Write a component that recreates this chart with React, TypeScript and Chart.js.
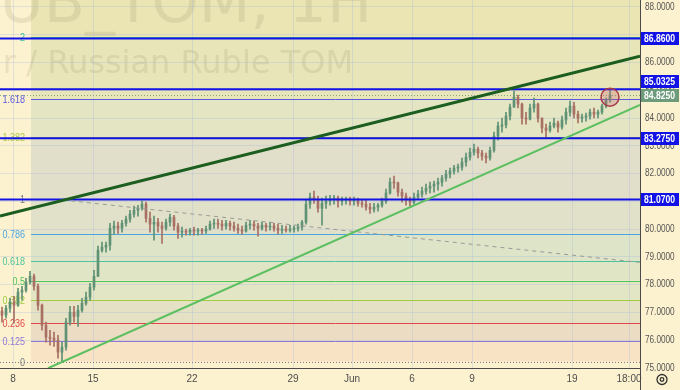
import React, { useEffect, useRef } from 'react';
import { Chart, registerables } from 'chart.js';

Chart.register(...registerables);

// ---- candle data (one candle per ~3 hourly bars), prices in RUB ----
const closes = [
  76.90, 77.15, 77.37, 77.26, 77.73, 77.80, 78.09, 78.30, 77.94, 77.26,
  76.54, 76.11, 76.07, 76.00, 75.57, 75.75, 76.65, 77.01, 76.86, 77.08,
  77.33, 77.55, 77.91, 78.30, 79.24, 79.35, 79.42, 80.03, 80.11, 80.03,
  80.21, 80.36, 80.54, 80.68, 80.75, 80.90, 80.39, 80.18, 80.25, 80.11,
  80.03, 80.25, 80.43, 80.11, 79.89, 79.93, 79.89, 79.96, 79.93, 79.96,
  79.93, 80.00, 80.18, 80.21, 80.18, 80.11, 80.21, 80.11, 80.03, 79.96,
  79.93, 80.14, 80.18, 80.11, 80.03, 80.14, 80.07, 80.11, 80.03, 79.96,
  80.00, 79.96, 80.00, 80.03, 80.07, 80.25, 80.90, 81.15, 81.08, 80.75,
  80.93, 81.01, 81.08, 81.12, 81.01, 81.04, 81.08, 81.01, 81.04, 80.93,
  80.90, 80.79, 80.72, 80.79, 80.86, 81.01, 81.30, 81.69, 81.66, 81.33,
  81.19, 81.04, 80.97, 81.15, 81.26, 81.37, 81.47, 81.55, 81.62, 81.69,
  81.84, 81.98, 82.09, 82.20, 82.23, 82.41, 82.59, 82.77, 82.88, 82.74,
  82.63, 82.56, 82.84, 83.35, 83.71, 83.75, 84.07, 84.39, 84.75, 84.50,
  84.00, 83.96, 84.36, 84.50, 84.00, 83.64, 83.56, 83.71, 83.82, 83.67,
  83.93, 84.21, 84.43, 84.14, 84.00, 84.03, 84.07, 84.21, 84.14, 84.21,
  84.43, 84.65, 84.825,
];

const highs = [
  77.19, 77.26, 77.51, 77.58, 77.87, 77.94, 78.23, 78.48, 78.38, 78.02,
  77.30, 76.65, 76.36, 76.29, 76.18, 75.93, 76.79, 77.22, 77.22, 77.26,
  77.51, 77.73, 78.05, 78.52, 79.39, 79.53, 79.53, 80.21, 80.29, 80.25,
  80.32, 80.47, 80.68, 80.83, 80.86, 81.01, 80.97, 80.61, 80.47, 80.39,
  80.25, 80.36, 80.54, 80.50, 80.21, 80.07, 80.00, 80.03, 80.07, 80.03,
  80.03, 80.11, 80.29, 80.36, 80.36, 80.32, 80.32, 80.29, 80.25, 80.18,
  80.11, 80.25, 80.32, 80.29, 80.21, 80.25, 80.21, 80.25, 80.21, 80.18,
  80.14, 80.11, 80.14, 80.11, 80.18, 80.32, 81.04, 81.30, 81.37, 81.19,
  81.12, 81.19, 81.22, 81.22, 81.19, 81.15, 81.15, 81.15, 81.15, 81.12,
  81.04, 81.04, 80.93, 80.93, 80.93, 81.12, 81.44, 81.84, 81.91, 81.69,
  81.44, 81.30, 81.15, 81.30, 81.40, 81.51, 81.62, 81.69, 81.73, 81.84,
  81.94, 82.12, 82.20, 82.30, 82.34, 82.56, 82.74, 82.92, 83.06, 82.95,
  82.84, 82.74, 82.95, 83.49, 83.85, 84.00, 84.21, 84.50, 84.97, 84.83,
  84.54, 84.21, 84.50, 84.72, 84.54, 84.00, 83.78, 83.85, 84.00, 83.89,
  84.07, 84.36, 84.61, 84.57, 84.25, 84.14, 84.18, 84.32, 84.36, 84.29,
  84.50, 84.72, 85.01,
];

const lows = [
  76.65, 76.79, 77.01, 76.61, 77.22, 77.44, 77.73, 78.02, 77.80, 77.08,
  76.36, 75.93, 75.82, 75.78, 75.35, 75.20, 75.64, 76.54, 76.65, 76.50,
  77.01, 77.26, 77.44, 77.80, 78.30, 79.17, 79.17, 79.24, 79.82, 79.85,
  79.89, 80.11, 80.25, 80.43, 80.47, 80.68, 80.25, 79.89, 79.60, 79.89,
  79.49, 79.96, 80.11, 79.96, 79.67, 79.71, 79.78, 79.78, 79.78, 79.78,
  79.82, 79.85, 79.96, 80.03, 80.03, 79.96, 80.00, 79.96, 79.93, 79.85,
  79.82, 79.89, 80.00, 79.96, 79.75, 79.96, 79.93, 79.96, 79.93, 79.82,
  79.85, 79.89, 79.89, 79.89, 79.93, 79.96, 80.18, 80.75, 80.93, 80.61,
  80.14, 80.75, 80.86, 80.90, 80.79, 80.86, 80.90, 80.86, 80.86, 80.83,
  80.79, 80.68, 80.57, 80.61, 80.65, 80.79, 80.93, 81.26, 81.47, 81.19,
  80.97, 80.86, 80.83, 80.90, 81.08, 81.15, 81.26, 81.30, 81.33, 81.40,
  81.55, 81.73, 81.84, 81.98, 82.05, 82.12, 82.27, 82.48, 82.66, 82.56,
  82.48, 82.38, 82.48, 82.77, 83.20, 83.49, 83.64, 83.93, 84.43, 84.36,
  83.78, 83.78, 83.93, 84.21, 83.85, 83.46, 83.31, 83.49, 83.64, 83.49,
  83.60, 83.78, 84.07, 84.00, 83.82, 83.85, 83.89, 83.96, 84.00, 84.00,
  84.14, 84.36, 84.57,
];

const firstOpen = 77.05;
const lastPrice = 84.825;

// ---- axes ----
const xTickSlots = [2.75, 22.75, 47.5, 72.75, 87.5, 102.5, 117.5, 142.5, 156.75];
const xTickLabels = ['8', '15', '22', '29', 'Jun', '6', '9', '19', '18:00'];
const yTickValues = [75, 76, 77, 78, 79, 80, 81, 82, 83, 84, 85, 86, 87, 88];
const yHiddenLabels = [87];

// ---- fibonacci retracement ----
const fibZero = 75.23;
const fibOne = 81.07;
const fibLevels = [0, 0.125, 0.236, 0.382, 0.5, 0.618, 0.786, 1, 1.382, 1.618, 2];
const fibLabels = ['0', '0.125', '0.236', '0.382', '0.5', '0.618', '0.786', '1', '1.382', '1.618', '2'];
const fibStartSlot = 7.25;

// ---- horizontal levels & trend lines ----
const levelPrices = [86.86, 85.0325, 83.275, 81.07];
const darkTrend = [{ x: -0.5, y: 80.47 }, { x: 159.5, y: 86.23 }];
const lightTrend = [{ x: 11.5, y: 74.99 }, { x: 159.5, y: 84.47 }];
const dashedTrend = [{ x: 15.25, y: 81.05 }, { x: 159.5, y: 78.8 }];
const markSlot = 152;
const markPrice = 84.75;

const watermarkTitle = 'USDRUB_TOM, 1H';
const watermarkSubtitle = 'US Dollar / Russian Ruble TOM';

// ---- styles ----
const PAGE_BG = '#fdf2cf';
const SANS = '"Liberation Sans", Arial, sans-serif';
const SQUEEZE = 0.82;
const UP = '#5f9275';
const DOWN = '#a86f63';
const LEVEL_BLUE = '#1212e6';
const LAST_BG = '#6e9b7c';
const GRID = 'rgba(170,185,220,0.33)';
const fibLineColors = ['#787b86', '#9078d8', '#e04848', '#9dcc3e', '#52c25a', '#4fc49c', '#4aa6e0', '#787b86', '#a8cc4a', '#5b5bdf', '#3dc0a0'];
const fibBandColors = ['#f8e3c5', '#ecdcc4', '#e4e1c4', '#e3e6c4', '#e0e5c5', '#dee4c8', '#e1e1ca', '#e1dfc9', '#e3e5c3', '#e8e5b8', '#ebe5b4'];

const fibPrice = (lvl: number) => fibZero + (fibOne - fibZero) * lvl;

function squeezedText(ctx: CanvasRenderingContext2D, text: string, x: number, y: number, align: CanvasTextAlign) {
  ctx.save();
  ctx.translate(x, y);
  ctx.scale(SQUEEZE, 1);
  ctx.textAlign = align;
  ctx.textBaseline = 'middle';
  ctx.fillText(text, 0, 0);
  ctx.restore();
}

const decorPlugin = {
  id: 'tvDecor',
  beforeDraw(chart: any) {
    const { ctx, chartArea: a } = chart;
    const xs = chart.scales.x;
    const ys = chart.scales.y;
    ctx.save();
    ctx.fillStyle = PAGE_BG;
    ctx.fillRect(0, 0, chart.width, chart.height);
    const left = Math.round(xs.getPixelForValue(fibStartSlot));
    for (let k = 0; k < fibLevels.length; k++) {
      const yLow = ys.getPixelForValue(fibPrice(fibLevels[k]));
      const yHigh = k + 1 < fibLevels.length ? ys.getPixelForValue(fibPrice(fibLevels[k + 1])) : a.top;
      ctx.fillStyle = fibBandColors[k];
      ctx.fillRect(left, yHigh, a.right - left, yLow - yHigh);
    }
    ctx.beginPath();
    ctx.rect(a.left, a.top, a.right - a.left, a.bottom - a.top);
    ctx.clip();
    ctx.fillStyle = 'rgba(110,100,60,0.12)';
    ctx.textAlign = 'right';
    ctx.textBaseline = 'alphabetic';
    ctx.font = '60px "DejaVu Sans", sans-serif';
    ctx.fillText(watermarkTitle, 372, 22);
    ctx.font = '32px "DejaVu Sans", sans-serif';
    ctx.fillText(watermarkSubtitle, 353, 73);
    ctx.restore();
  },
  beforeDatasetsDraw(chart: any) {
    const { ctx, chartArea: a } = chart;
    const xs = chart.scales.x;
    const ys = chart.scales.y;
    const left = Math.round(xs.getPixelForValue(fibStartSlot));
    ctx.save();
    ctx.lineWidth = 1;
    ctx.font = '11px ' + SANS;
    for (let k = 0; k < fibLevels.length; k++) {
      const py = Math.round(ys.getPixelForValue(fibPrice(fibLevels[k]))) + 0.5;
      ctx.strokeStyle = fibLineColors[k];
      ctx.setLineDash(fibLevels[k] === 0 ? [1, 2] : []);
      ctx.beginPath();
      ctx.moveTo(fibLevels[k] === 0 ? a.left : left, py);
      ctx.lineTo(a.right, py);
      ctx.stroke();
      ctx.fillStyle = fibLineColors[k];
      squeezedText(ctx, fibLabels[k], left - 6, py, 'right');
    }
    const ly = Math.round(ys.getPixelForValue(lastPrice)) + 0.5;
    ctx.strokeStyle = '#7fa88a';
    ctx.setLineDash([1, 2]);
    ctx.beginPath();
    ctx.moveTo(a.left, ly);
    ctx.lineTo(a.right, ly);
    ctx.stroke();
    ctx.restore();
  },
  afterDraw(chart: any) {
    const { ctx, chartArea: a } = chart;
    const xs = chart.scales.x;
    const ys = chart.scales.y;
    ctx.save();
    // axis borders
    ctx.strokeStyle = '#4a4a4a';
    ctx.lineWidth = 1;
    ctx.beginPath();
    ctx.moveTo(a.left, Math.round(a.bottom) + 0.5);
    ctx.lineTo(a.right, Math.round(a.bottom) + 0.5);
    ctx.moveTo(Math.round(a.right) + 0.5, 0);
    ctx.lineTo(Math.round(a.right) + 0.5, chart.height);
    ctx.stroke();

    // price-axis tick labels
    ctx.font = '10px ' + SANS;
    ctx.fillStyle = '#555555';
    for (const v of yTickValues) {
      if (yHiddenLabels.includes(v)) continue;
      squeezedText(ctx, v.toFixed(4), a.right + 5, ys.getPixelForValue(v), 'left');
    }

    // marker circle
    const cx = xs.getPixelForValue(markSlot);
    const cy = ys.getPixelForValue(markPrice);
    ctx.beginPath();
    ctx.arc(cx, cy, 9, 0, Math.PI * 2);
    ctx.fillStyle = 'rgba(205,90,110,0.28)';
    ctx.fill();
    ctx.strokeStyle = '#a83a4a';
    ctx.lineWidth = 1.5;
    ctx.stroke();

    // price-axis boxes
    const BOX_H = 13;
    const boxes: any[] = levelPrices.map((p) => ({ y: ys.getPixelForValue(p), text: p.toFixed(4), bg: LEVEL_BLUE, fixed: false }));
    boxes.push({ y: ys.getPixelForValue(lastPrice), text: lastPrice.toFixed(4), bg: LAST_BG, fixed: true });
    boxes.sort((p: any, q: any) => p.y - q.y);
    for (let pass = 0; pass < 4; pass++) {
      for (let i = 1; i < boxes.length; i++) {
        const gap = boxes[i].y - boxes[i - 1].y;
        if (gap < BOX_H + 1) {
          const need = BOX_H + 1 - gap;
          if (boxes[i - 1].fixed) boxes[i].y += need;
          else if (boxes[i].fixed) boxes[i - 1].y -= need;
          else { boxes[i - 1].y -= need / 2; boxes[i].y += need / 2; }
        }
      }
    }
    ctx.font = 'bold 10.5px ' + SANS;
    for (const b of boxes) {
      const top = Math.round(b.y - BOX_H / 2);
      ctx.fillStyle = b.bg;
      ctx.fillRect(a.right + 1, top, 38, BOX_H);
      ctx.fillStyle = '#ffffff';
      squeezedText(ctx, b.text, a.right + 4, top + BOX_H / 2 + 0.5, 'left');
    }

    // settings icon
    ctx.strokeStyle = '#333';
    ctx.lineWidth = 1.3;
    ctx.beginPath();
    ctx.arc(a.right + 22, a.bottom + 11.5, 5, 0, Math.PI * 2);
    ctx.stroke();
    ctx.beginPath();
    ctx.arc(a.right + 22, a.bottom + 11.5, 1.8, 0, Math.PI * 2);
    ctx.stroke();
    ctx.restore();
  },
};

export default function App() {
  const canvasRef = useRef<HTMLCanvasElement | null>(null);

  useEffect(() => {
    const canvas = canvasRef.current;
    if (!canvas) return;
    const opens = closes.map((_, i) => (i === 0 ? firstOpen : closes[i - 1]));
    const candleColors = closes.map((c, i) => (c >= opens[i] ? UP : DOWN));
    const wickData = closes.map((c, i) => ({
      x: i,
      y: [Math.min(lows[i], opens[i], c), Math.max(highs[i], opens[i], c)],
    }));
    const bodyData = closes.map((c, i) => ({ x: i, y: [opens[i], c] }));

    const hLine = (p: number) => [{ x: -0.5, y: p }, { x: 159.5, y: p }];

    const lineDs = (data: any[], color: string, width: number, order: number, dash: number[] = []) => ({
      type: 'line' as const,
      data,
      borderColor: color,
      borderWidth: width,
      borderDash: dash,
      pointRadius: 0,
      tension: 0,
      fill: false,
      order,
    });

    const chart = new Chart(canvas, {
      type: 'bar',
      data: {
        datasets: [
          lineDs(darkTrend, '#1b5e20', 3, 0),
          lineDs(lightTrend, '#5cbf60', 2, 0),
          lineDs(dashedTrend, '#9a9a96', 1, 0, [4, 4]),
          ...levelPrices.map((p) => lineDs(hLine(p), LEVEL_BLUE, 2, 1)),
          {
            type: 'bar' as const,
            data: bodyData as any,
            backgroundColor: candleColors,
            barThickness: 2,
            minBarLength: 1,
            grouped: false,
            order: 2,
          },
          {
            type: 'bar' as const,
            data: wickData as any,
            backgroundColor: candleColors,
            barThickness: 1,
            grouped: false,
            order: 3,
          },
        ] as any,
      },
      options: {
        responsive: false,
        animation: false,
        devicePixelRatio: 1,
        layout: { padding: 0 },
        plugins: { legend: { display: false }, tooltip: { enabled: false } },
        events: [],
        scales: {
          x: {
            type: 'linear',
            min: -0.5,
            max: 159.5,
            offset: false,
            grid: { color: GRID, drawTicks: false, offset: false },
            border: { display: false },
            afterBuildTicks: (s: any) => {
              s.ticks = xTickSlots.map((v) => ({ value: v }));
            },
            afterFit: (s: any) => {
              s.height = 22;
              s.paddingLeft = 0;
              s.paddingRight = 0;
            },
            ticks: {
              autoSkip: false,
              maxRotation: 0,
              padding: 5,
              color: '#4d4d4d',
              font: { size: 10, family: SANS },
              callback: (_v: any, i: number) => xTickLabels[i] ?? '',
            },
          },
          y: {
            type: 'linear',
            position: 'right',
            min: 75,
            max: 88.25,
            grid: { color: GRID, drawTicks: false },
            border: { display: false },
            afterBuildTicks: (s: any) => {
              s.ticks = yTickValues.map((v) => ({ value: v }));
            },
            afterFit: (s: any) => {
              s.width = 40;
              s.paddingTop = 0;
              s.paddingBottom = 0;
            },
            ticks: { display: false },
          },
        },
      } as any,
      plugins: [decorPlugin],
    });
    return () => chart.destroy();
  }, []);

  return (
    <div style={{ position: 'fixed', left: 0, top: 0, width: 680, height: 390 }}>
      <canvas ref={canvasRef} width={680} height={390} style={{ display: 'block', width: 680, height: 390 }} />
    </div>
  );
}
